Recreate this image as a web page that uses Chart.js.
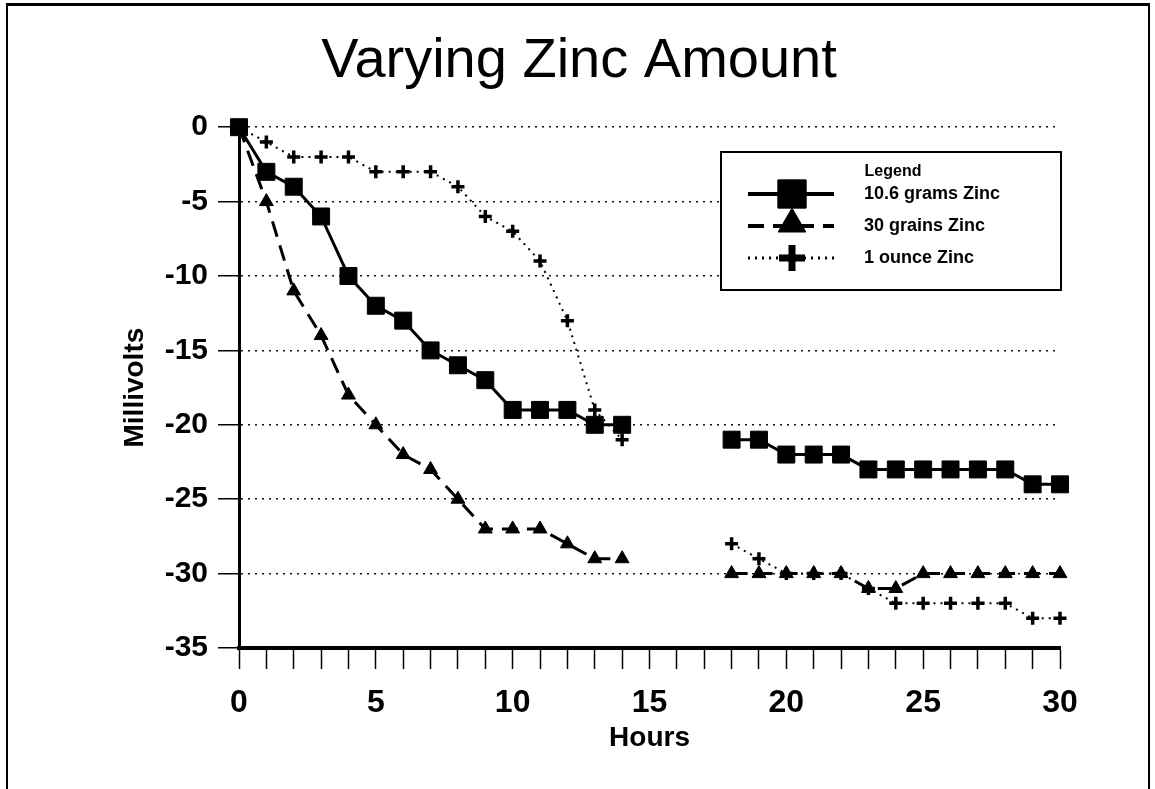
<!DOCTYPE html>
<html>
<head>
<meta charset="utf-8">
<script src="https://cdn.jsdelivr.net/npm/chart.js@4.4.1/dist/chart.umd.min.js"></script>
<style>
  body { margin: 0; background: #fff; }
  #wrap { position: relative; width: 1155px; height: 789px; overflow: hidden; }
  #frame { position: absolute; left: 6px; top: 3px; width: 1140px; height: 800px;
           border-top: 3px solid #000; border-left: 2px solid #000; border-right: 2px solid #000;
           pointer-events: none; }
  canvas { position: absolute; left: 0; top: 0; }
</style>
</head>
<body>
<div id="wrap">
  <canvas id="zincChart" width="1155" height="789"></canvas>
  <div id="frame"></div>
</div>
<script>
// hours 15-17 have no readings, so they stay null and break the lines
const hours = [0,1,2,3,4,5,6,7,8,9,10,11,12,13,14,15,16,17,18,19,20,21,22,23,24,25,26,27,28,29,30];
const grams106 = [0,-3,-4,-6,-10,-12,-13,-15,-16,-17,-19,-19,-19,-20,-20,null,null,null,-21,-21,-22,-22,-22,-23,-23,-23,-23,-23,-23,-24,-24];
const grains30 = [0,-5,-11,-14,-18,-20,-22,-23,-25,-27,-27,-27,-28,-29,-29,null,null,null,-30,-30,-30,-30,-30,-31,-31,-30,-30,-30,-30,-30,-30];
const ounce1 = [0,-1,-2,-2,-2,-3,-3,-3,-4,-6,-7,-9,-13,-19,-21,null,null,null,-28,-29,-30,-30,-30,-31,-32,-32,-32,-32,-32,-33,-33];
const seriesNames = ['10.6 grams Zinc', '30 grains Zinc', '1 ounce Zinc'];
const xTicksLabelled = [0, 5, 10, 15, 20, 25, 30];

function toPoints(vals) {
  return hours.map((h, i) => ({ x: h, y: vals[i] }));
}

// legend box drawn inside the plot, top right, like the original
const boxLegend = {
  id: 'boxLegend',
  afterDraw(chart) {
    const ctx = chart.ctx;
    const left = 721, top = 152, right = 1061, bottom = 290;
    ctx.save();
    ctx.fillStyle = '#fff';
    ctx.fillRect(left, top, right - left, bottom - top);
    ctx.strokeStyle = '#000';
    ctx.lineWidth = 2;
    ctx.strokeRect(left, top, right - left, bottom - top);
    ctx.fillStyle = '#000';
    ctx.font = 'bold 16px "Liberation Sans", Arial, sans-serif';
    ctx.textAlign = 'center';
    ctx.textBaseline = 'middle';
    ctx.fillText('Legend', 893, 172);

    const rows = [194, 226, 258];
    const markers = [
      { pointStyle: 'rect', radius: 20, borderWidth: 1, rotation: 0 },
      { pointStyle: 'triangle', radius: 16, borderWidth: 1, rotation: 0 },
      { pointStyle: 'cross', radius: 13, borderWidth: 7, rotation: 0 }
    ];
    chart.data.datasets.forEach((ds, i) => {
      const y = rows[i];
      ctx.beginPath();
      ctx.setLineDash(ds.borderDash || []);
      ctx.lineWidth = ds.borderWidth + 1;
      ctx.strokeStyle = '#000';
      ctx.moveTo(748, y);
      ctx.lineTo(834, y);
      ctx.stroke();
      ctx.setLineDash([]);
      ctx.fillStyle = '#000';
      ctx.lineWidth = markers[i].borderWidth;
      Chart.helpers.drawPoint(ctx, markers[i], 792, i === 1 ? y - 2 : y);
      ctx.font = 'bold 18px "Liberation Sans", Arial, sans-serif';
      ctx.textAlign = 'left';
      ctx.fillText(seriesNames[i], 864, y);
    });
    ctx.restore();
  }
};

const config = {
  type: 'line',
  data: {
    datasets: [{
      label: seriesNames[0],
      data: toPoints(grams106),
      clip: false,
      borderColor: '#000',
      backgroundColor: '#000',
      borderWidth: 3,
      pointStyle: 'rect',
      pointRadius: 12,
      pointBorderWidth: 1,
      pointBackgroundColor: '#000',
      pointBorderColor: '#000'
    }, {
      label: seriesNames[1],
      data: toPoints(grains30),
      clip: false,
      borderColor: '#000',
      backgroundColor: '#000',
      borderWidth: 3,
      borderDash: [16, 9],
      pointStyle: 'triangle',
      pointRadius: 8,
      pointBorderWidth: 1,
      pointBackgroundColor: '#000',
      pointBorderColor: '#000'
    }, {
      label: seriesNames[2],
      data: toPoints(ounce1),
      clip: false,
      borderColor: '#000',
      backgroundColor: '#000',
      borderWidth: 2,
      borderDash: [2, 5],
      pointStyle: 'cross',
      pointRadius: 6.5,
      pointBorderWidth: 3.5,
      pointBackgroundColor: '#000',
      pointBorderColor: '#000'
    }]
  },
  options: {
    responsive: false,
    animation: false,
    layout: { padding: { left: 98, right: 95, top: 0, bottom: 0 } },
    plugins: {
      legend: { display: false },
      tooltip: { enabled: false },
      title: {
        display: true,
        text: 'Varying Zinc Amount',
        color: '#000',
        font: { family: '"Liberation Sans", Arial, sans-serif', size: 56, weight: 'normal' },
        padding: { top: 28, bottom: 32 }
      }
    },
    scales: {
      x: {
        type: 'linear',
        min: 0,
        max: 30,
        afterFit: s => { s.height = 141; },
        border: { display: true, color: '#000', width: 4 },
        grid: { drawOnChartArea: false, drawTicks: true, tickLength: 21, tickColor: '#000', tickWidth: 1.5 },
        ticks: {
          stepSize: 1,
          autoSkip: false,
          maxRotation: 0,
          padding: 15,
          color: '#000',
          font: { family: '"Liberation Sans", Arial, sans-serif', size: 32, weight: 'bold' },
          callback: v => xTicksLabelled.includes(v) ? v : ''
        },
        title: {
          display: true,
          text: 'Hours',
          color: '#000',
          font: { family: '"Liberation Sans", Arial, sans-serif', size: 28, weight: 'bold' },
          padding: { top: 0, bottom: 34 }
        }
      },
      y: {
        min: -35,
        max: 0,
        afterFit: s => { s.width = 141; },
        border: { display: true, color: '#000', width: 3, dash: [2, 5] },
        grid: {
          color: '#111',
          lineWidth: 1.5,
          tickLength: 21,
          tickColor: '#000',
          tickWidth: 1.5,
          tickBorderDash: []
        },
        ticks: {
          stepSize: 5,
          padding: 10,
          color: '#000',
          font: { family: '"Liberation Sans", Arial, sans-serif', size: 30, weight: 'bold' }
        },
        title: {
          display: true,
          text: 'Millivolts',
          color: '#000',
          font: { family: '"Liberation Sans", Arial, sans-serif', size: 28, weight: 'bold' },
          padding: { top: 20, bottom: 0 }
        }
      }
    }
  },
  plugins: [boxLegend]
};

const zincChart = new Chart(document.getElementById('zincChart').getContext('2d'), config);
</script>
</body>
</html>
